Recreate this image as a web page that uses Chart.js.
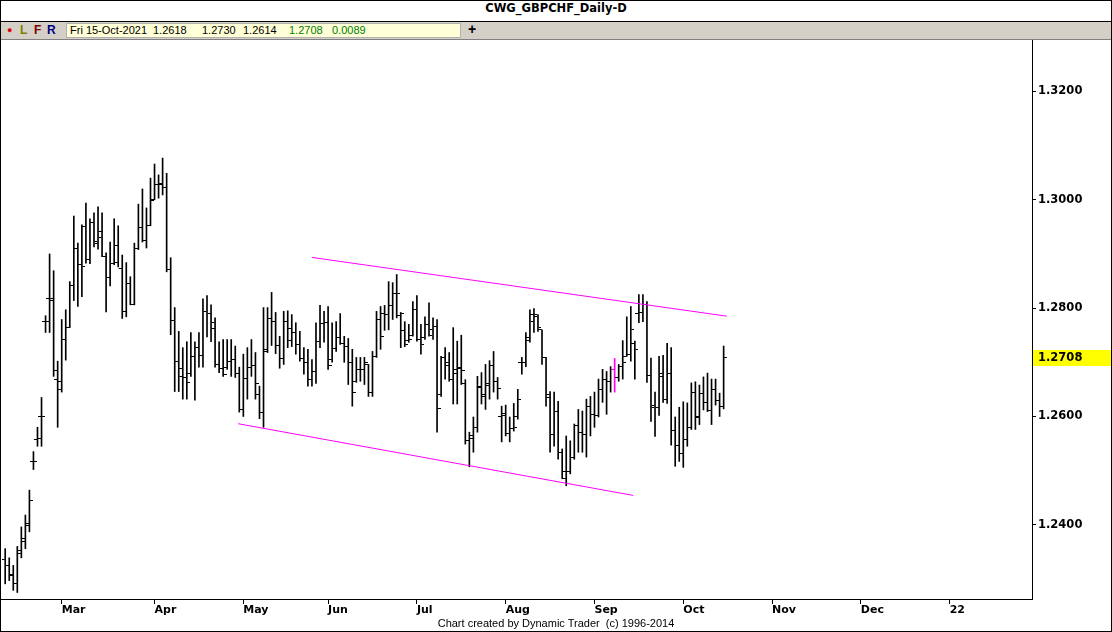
<!DOCTYPE html>
<html>
<head>
<meta charset="utf-8">
<title>CWG_GBPCHF_Daily-D</title>
<script src="https://cdn.jsdelivr.net/npm/chart.js@4.4.0/dist/chart.umd.min.js"></script>
<style>
  html, body { margin: 0; padding: 0; background: #fff; }
  #frame {
    position: relative; width: 1112px; height: 632px; box-sizing: border-box;
    border: 1px solid #000; overflow: hidden; background: #fff;
    font-family: "Liberation Sans", Arial, sans-serif;
  }
  #title {
    height: 20px; line-height: 20px; text-align: center;
    font: bold 11.5px "DejaVu Sans", sans-serif; border-bottom: 1px solid #000;
  }
  #toolbar {
    position: relative; height: 17px; background: #d4d0c8;
    border-bottom: 1px solid #808080; font-size: 11px;
  }
  #toolbar span { position: absolute; top: 2px; white-space: pre; }
  #toolbar .btn { font-weight: bold; font-size: 12px; top: 1px; }
  #quote {
    position: absolute; left: 65px; top: 1px; width: 393px; height: 13px;
    background: #ffffd8; border: 1px solid #b0b0b0;
  }
  #quote span { top: 0; }
  .green { color: #008000; }
  #chart-wrap { position: absolute; left: 0; top: 39px; width: 1110px; height: 591px; }
  #footer {
    position: absolute; left: 0; bottom: 1px; width: 100%; text-align: center;
    font-size: 11px; line-height: 13px; white-space: pre;
  }
</style>
</head>
<body>
<div id="frame">
  <div id="title">CWG_GBPCHF_Daily-D</div>
  <div id="toolbar">
    <span class="btn" style="left:6px;color:#e00000;font-size:9px;top:3px;">&#9679;</span>
    <span class="btn" style="left:19px;color:#808000;">L</span>
    <span class="btn" style="left:33px;color:#800000;">F</span>
    <span class="btn" style="left:46px;color:#000080;">R</span>
    <div id="quote">
      <span style="left:3px;">Fri 15-Oct-2021</span>
      <span style="left:86px;">1.2618</span>
      <span style="left:135px;">1.2730</span>
      <span style="left:176px;">1.2614</span>
      <span class="green" style="left:222px;">1.2708</span>
      <span class="green" style="left:265px;">0.0089</span>
    </div>
    <span class="btn" style="left:467px;font-size:14px;top:-1px;">+</span>
  </div>
  <div id="chart-wrap"><canvas id="chart" width="1110" height="591"></canvas></div>
  <div id="footer">Chart created by Dynamic Trader  (c) 1996-2014</div>
</div>

<script>
// daily GBPCHF bars, 9-Feb-2021 .. 15-Oct-2021 (index = trading day)
const opens = [
  1.2336, 1.2325, 1.2308, 1.2291, 1.2347, 1.2369, 1.2398, 1.2517, 1.2557, 1.2600,
  1.2775, 1.2817, 1.2815, 1.2669, 1.2665, 1.2742, 1.2764, 1.2841, 1.2910, 1.2880,
  1.2950, 1.2889, 1.2959, 1.2920, 1.2931, 1.2895, 1.2856, 1.2882, 1.2884, 1.2873,
  1.2793, 1.2845, 1.2806, 1.2910, 1.2948, 1.2924, 1.2952, 1.3000, 1.3029, 1.3029,
  1.3022, 1.2871, 1.2777, 1.2702, 1.2689, 1.2672, 1.2680, 1.2711, 1.2727, 1.2713,
  1.2793, 1.2791, 1.2773, 1.2696, 1.2689, 1.2690, 1.2702, 1.2705, 1.2680, 1.2613,
  1.2670, 1.2691, 1.2694, 1.2640, 1.2608, 1.2724, 1.2781, 1.2775, 1.2731, 1.2707,
  1.2776, 1.2762, 1.2755, 1.2733, 1.2707, 1.2700, 1.2669, 1.2683, 1.2738, 1.2771,
  1.2773, 1.2705, 1.2726, 1.2746, 1.2735, 1.2729, 1.2700, 1.2665, 1.2687, 1.2687,
  1.2696, 1.2645, 1.2711, 1.2779, 1.2790, 1.2788, 1.2805, 1.2827, 1.2786, 1.2758,
  1.2740, 1.2750, 1.2797, 1.2742, 1.2745, 1.2770, 1.2760, 1.2766, 1.2640, 1.2709,
  1.2700, 1.2668, 1.2680, 1.2688, 1.2660, 1.2556, 1.2565, 1.2580, 1.2656, 1.2640,
  1.2660, 1.2694, 1.2665, 1.2600, 1.2605, 1.2568, 1.2578, 1.2600, 1.2700, 1.2700,
  1.2745, 1.2788, 1.2785, 1.2760, 1.2709, 1.2640, 1.2566, 1.2610, 1.2534, 1.2485,
  1.2499, 1.2525, 1.2584, 1.2571, 1.2567, 1.2619, 1.2604, 1.2602, 1.2650, 1.2669,
  1.2665, 1.2687, 1.2672, 1.2692, 1.2711, 1.2715, 1.2735, 1.2790, 1.2792, 1.2806,
  1.2676, 1.2620, 1.2617, 1.2680, 1.2632, 1.2680, 1.2575, 1.2547, 1.2532, 1.2558,
  1.2580, 1.2645, 1.2600, 1.2643, 1.2626, 1.2611, 1.2650, 1.2630, 1.2618
];
const highs = [
  1.2356, 1.2339, 1.2325, 1.2360, 1.2396, 1.2418, 1.2464, 1.2535, 1.2580, 1.2635,
  1.2786, 1.2900, 1.2869, 1.2702, 1.2779, 1.2797, 1.2849, 1.2970, 1.2920, 1.2954,
  1.2994, 1.2965, 1.2976, 1.2987, 1.2976, 1.2902, 1.2922, 1.2965, 1.2952, 1.2898,
  1.2884, 1.2858, 1.2920, 1.2992, 1.3020, 1.2985, 1.3040, 1.3066, 1.3046, 1.3077,
  1.3049, 1.2893, 1.2801, 1.2757, 1.2727, 1.2738, 1.2755, 1.2738, 1.2755, 1.2817,
  1.2823, 1.2806, 1.2782, 1.2738, 1.2742, 1.2742, 1.2742, 1.2730, 1.2691, 1.2715,
  1.2727, 1.2742, 1.2718, 1.2656, 1.2801, 1.2801, 1.2829, 1.2792, 1.2748, 1.2794,
  1.2795, 1.2788, 1.2773, 1.2757, 1.2727, 1.2724, 1.2705, 1.2773, 1.2805, 1.2794,
  1.2803, 1.2773, 1.2775, 1.2790, 1.2748, 1.2744, 1.2724, 1.2709, 1.2709, 1.2709,
  1.2696, 1.2720, 1.2794, 1.2803, 1.2805, 1.2849, 1.2847, 1.2862, 1.2792, 1.2775,
  1.2770, 1.2812, 1.2823, 1.2770, 1.2784, 1.2810, 1.2782, 1.2779, 1.2711, 1.2727,
  1.2718, 1.2764, 1.2739, 1.2750, 1.2668, 1.2571, 1.2599, 1.2674, 1.2681, 1.2696,
  1.2703, 1.2720, 1.2672, 1.2619, 1.2621, 1.2599, 1.2624, 1.2650, 1.2709, 1.2755,
  1.2797, 1.2799, 1.2788, 1.2760, 1.2709, 1.2646, 1.2645, 1.2628, 1.2540, 1.2564,
  1.2555, 1.2586, 1.2613, 1.2610, 1.2632, 1.2637, 1.2645, 1.2669, 1.2687, 1.2683,
  1.2692, 1.2707, 1.2696, 1.2740, 1.2784, 1.2803, 1.2739, 1.2825, 1.2825, 1.2812,
  1.2708, 1.2645, 1.2711, 1.2713, 1.2735, 1.2727, 1.2599, 1.2617, 1.2627, 1.2625,
  1.2662, 1.2664, 1.2658, 1.2673, 1.2680, 1.2669, 1.2669, 1.2643, 1.2730
];
const lows = [
  1.2291, 1.2297, 1.2279, 1.2275, 1.2339, 1.2356, 1.2387, 1.2502, 1.2545, 1.2545,
  1.2755, 1.2755, 1.2674, 1.2580, 1.2645, 1.2704, 1.2764, 1.2814, 1.2803, 1.2821,
  1.2883, 1.2882, 1.2913, 1.2909, 1.2895, 1.2793, 1.2841, 1.2880, 1.2876, 1.2781,
  1.2784, 1.2806, 1.2806, 1.2908, 1.2922, 1.2911, 1.2952, 1.3000, 1.3003, 1.3009,
  1.2867, 1.2751, 1.2646, 1.2646, 1.2632, 1.2632, 1.2674, 1.2630, 1.2691, 1.2691,
  1.2747, 1.2738, 1.2691, 1.2681, 1.2674, 1.2687, 1.2674, 1.2672, 1.2608, 1.2600,
  1.2632, 1.2674, 1.2632, 1.2596, 1.2580, 1.2718, 1.2731, 1.2716, 1.2689, 1.2696,
  1.2727, 1.2729, 1.2715, 1.2702, 1.2678, 1.2656, 1.2656, 1.2661, 1.2727, 1.2737,
  1.2687, 1.2700, 1.2720, 1.2733, 1.2700, 1.2659, 1.2619, 1.2663, 1.2665, 1.2659,
  1.2637, 1.2637, 1.2709, 1.2724, 1.2759, 1.2760, 1.2779, 1.2782, 1.2727, 1.2729,
  1.2737, 1.2748, 1.2739, 1.2715, 1.2742, 1.2748, 1.2742, 1.2571, 1.2637, 1.2669,
  1.2665, 1.2623, 1.2623, 1.2659, 1.2549, 1.2507, 1.2534, 1.2571, 1.2623, 1.2613,
  1.2632, 1.2645, 1.2632, 1.2553, 1.2564, 1.2553, 1.2573, 1.2595, 1.2678, 1.2692,
  1.2737, 1.2755, 1.2757, 1.2696, 1.2619, 1.2534, 1.2545, 1.2521, 1.2485, 1.2472,
  1.2494, 1.2521, 1.2534, 1.2534, 1.2525, 1.2564, 1.2580, 1.2599, 1.2626, 1.2604,
  1.2645, 1.2645, 1.2665, 1.2669, 1.2711, 1.2702, 1.2669, 1.2773, 1.2775, 1.2663,
  1.2591, 1.2563, 1.2602, 1.2626, 1.2624, 1.2547, 1.2508, 1.2517, 1.2506, 1.2545,
  1.2576, 1.2576, 1.2585, 1.2612, 1.2609, 1.2585, 1.2621, 1.2600, 1.2614
];
const closes = [
  1.2325, 1.2306, 1.2291, 1.2352, 1.2374, 1.2402, 1.2444, 1.2517, 1.2559, 1.2600,
  1.2775, 1.2817, 1.2685, 1.2650, 1.2742, 1.2764, 1.2841, 1.2910, 1.2880, 1.2877,
  1.2889, 1.2959, 1.2923, 1.2942, 1.2895, 1.2856, 1.2882, 1.2915, 1.2873, 1.2793,
  1.2845, 1.2806, 1.2910, 1.2948, 1.2924, 1.2952, 1.2998, 1.3029, 1.3031, 1.3022,
  1.2871, 1.2777, 1.2702, 1.2674, 1.2672, 1.2663, 1.2711, 1.2727, 1.2713, 1.2793,
  1.2791, 1.2762, 1.2696, 1.2689, 1.2678, 1.2702, 1.2705, 1.2680, 1.2613, 1.2670,
  1.2691, 1.2694, 1.2660, 1.2608, 1.2720, 1.2781, 1.2775, 1.2731, 1.2707, 1.2776,
  1.2740, 1.2755, 1.2733, 1.2707, 1.2700, 1.2669, 1.2683, 1.2738, 1.2771, 1.2773,
  1.2694, 1.2726, 1.2746, 1.2735, 1.2729, 1.2700, 1.2645, 1.2687, 1.2687, 1.2700,
  1.2645, 1.2711, 1.2779, 1.2748, 1.2788, 1.2805, 1.2827, 1.2827, 1.2790, 1.2733,
  1.2742, 1.2797, 1.2742, 1.2733, 1.2770, 1.2750, 1.2766, 1.2615, 1.2709, 1.2694,
  1.2668, 1.2687, 1.2691, 1.2685, 1.2555, 1.2560, 1.2580, 1.2654, 1.2637, 1.2658,
  1.2694, 1.2665, 1.2652, 1.2602, 1.2568, 1.2578, 1.2580, 1.2632, 1.2700, 1.2740,
  1.2775, 1.2788, 1.2764, 1.2709, 1.2635, 1.2566, 1.2610, 1.2534, 1.2499, 1.2499,
  1.2525, 1.2584, 1.2571, 1.2567, 1.2619, 1.2604, 1.2602, 1.2650, 1.2669, 1.2665,
  1.2687, 1.2672, 1.2692, 1.2700, 1.2715, 1.2760, 1.2724, 1.2792, 1.2806, 1.2676,
  1.2617, 1.2617, 1.2674, 1.2632, 1.2680, 1.2575, 1.2547, 1.2532, 1.2558, 1.2580,
  1.2645, 1.2598, 1.2643, 1.2626, 1.2611, 1.2650, 1.2630, 1.2618, 1.2708
];

// bar drawn in magenta on the reference
const markIdx = 151;

// channel lines: [dayIndex, price]
const upperLine = [[76.0, 1.28936], [178.8, 1.27851]];
const lowerLine = [[57.7, 1.25866], [155.6, 1.24542]];

// x axis: first trading day of each month
const monthTicks = [14, 37, 59, 80, 102, 124, 146, 168, 190, 212, 234];
const monthLabels = ['Mar', 'Apr', 'May', 'Jun', 'Jul', 'Aug', 'Sep', 'Oct', 'Nov', 'Dec', '22'];

const priceTicks = [1.24, 1.26, 1.28, 1.30, 1.32];
const lastPrice = 1.2708;

const axisFont = { family: 'DejaVu Sans', size: 11.5, weight: 'bold' };

function makeTick(color, side) {
    const c = document.createElement('canvas');
    c.width = 7;
    c.height = 1;
    const g = c.getContext('2d');
    g.fillStyle = color;
    g.fillRect(side === 'left' ? 0 : 4, 0, 3, 1);
    return c;
}
const openTick = makeTick('#000', 'left');
const closeTick = makeTick('#000', 'right');
const openTickMark = makeTick('#ff00ff', 'left');
const closeTickMark = makeTick('#ff00ff', 'right');

function tickSet(values, tickImg, markImg) {
    return {
        type: 'line',
        data: values.map((v, i) => ({ x: i, y: v })),
        showLine: false,
        pointStyle: ctx => ctx.dataIndex === markIdx ? markImg : tickImg,
        pointRadius: 3,
        pointHoverRadius: 3,
        order: 1
    };
}

function channel(points) {
    return {
        type: 'line',
        data: points.map(p => ({ x: p[0], y: p[1] })),
        borderColor: '#ff00ff',
        borderWidth: 1,
        pointRadius: 0,
        fill: false,
        order: 0
    };
}

const lastPricePlugin = {
    id: 'lastPrice',
    afterDraw(chart) {
        const y = chart.scales.y.getPixelForValue(lastPrice);
        const ctx = chart.ctx;
        const left = chart.chartArea.right + 1;
        ctx.save();
        ctx.fillStyle = '#ffff00';
        ctx.fillRect(left, Math.round(y) - 8, chart.width - left, 16);
        ctx.fillStyle = '#000';
        ctx.font = 'bold 11.5px "DejaVu Sans"';
        ctx.textBaseline = 'middle';
        ctx.textAlign = 'left';
        ctx.fillText(lastPrice.toFixed(4), chart.chartArea.right + 6, Math.round(y));
        ctx.restore();
    }
};

new Chart(document.getElementById('chart'), {
    type: 'bar',
    data: {
        datasets: [
            {
                type: 'bar',
                data: highs.map((h, i) => ({ x: i, y: [lows[i], h] })),
                backgroundColor: ctx => ctx.dataIndex === markIdx ? '#ff00ff' : '#000',
                barThickness: 1,
                grouped: false,
                order: 2
            },
            tickSet(opens, openTick, openTickMark),
            tickSet(closes, closeTick, closeTickMark),
            channel(upperLine),
            channel(lowerLine)
        ]
    },
    options: {
        responsive: false,
        animation: false,
        events: [],
        layout: { padding: 0, autoPadding: false },
        plugins: {
            legend: { display: false },
            tooltip: { enabled: false },
            title: { display: false }
        },
        scales: {
            x: {
                type: 'linear',
                offset: false,
                min: -1.04,
                max: 254.4,
                afterBuildTicks: axis => { axis.ticks = monthTicks.map(v => ({ value: v })); },
                afterFit: axis => { axis.height = 32; axis.paddingLeft = 0; axis.paddingRight = 0; },
                ticks: {
                    autoSkip: false,
                    maxRotation: 0,
                    align: 'start',
                    padding: 0,
                    color: '#000',
                    font: { family: 'DejaVu Sans', size: 11, weight: 'bold' },
                    callback: v => monthLabels[monthTicks.indexOf(v)]
                },
                grid: { drawOnChartArea: false, offset: false, tickLength: 5, color: '#000' },
                border: { color: '#000', width: 1 }
            },
            y: {
                type: 'linear',
                position: 'right',
                min: 1.2263,
                max: 1.3295,
                afterBuildTicks: axis => { axis.ticks = priceTicks.map(v => ({ value: v })); },
                afterFit: axis => { axis.width = 79; axis.paddingTop = 0; axis.paddingBottom = 0; },
                ticks: {
                    padding: 2,
                    color: '#000',
                    font: axisFont,
                    callback: v => v.toFixed(4)
                },
                grid: { drawOnChartArea: false, tickLength: 4, color: '#000' },
                border: { color: '#000', width: 1 }
            }
        }
    },
    plugins: [lastPricePlugin]
});
</script>
</body>
</html>
